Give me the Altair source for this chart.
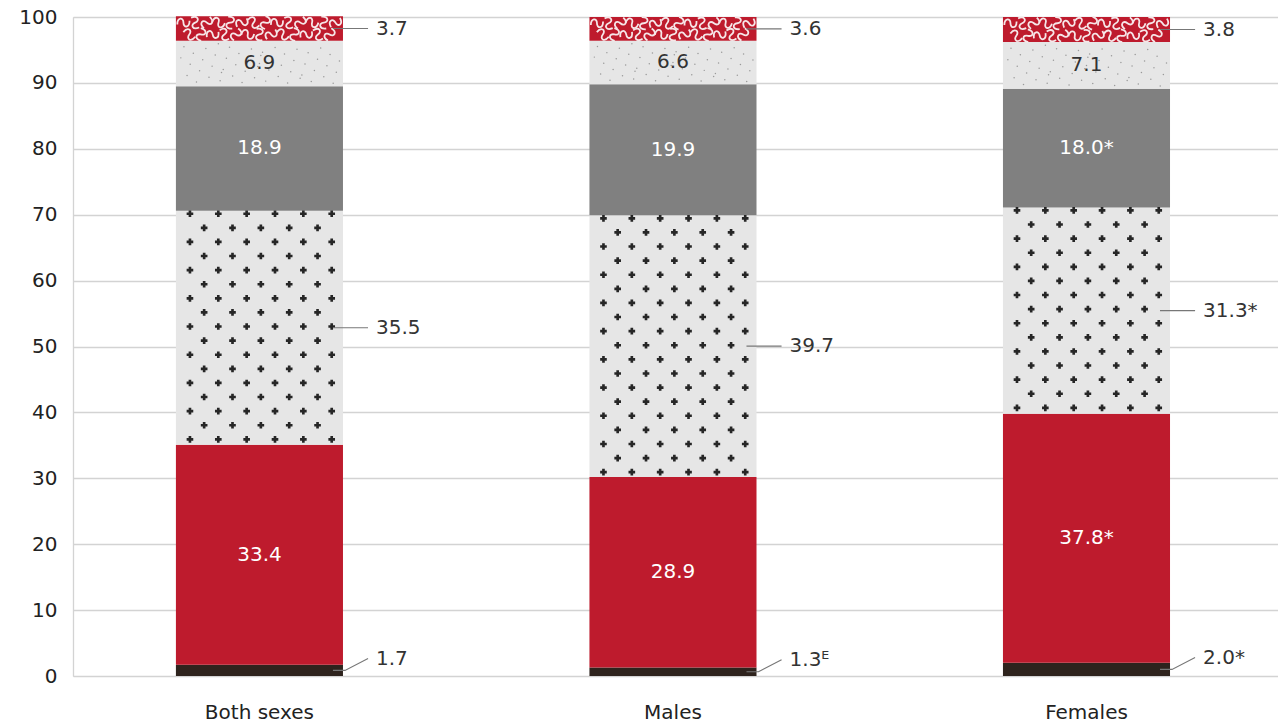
import altair as alt
import pandas as pd
import numpy as np

FONT = "DejaVu Sans"

categories = ["Both sexes", "Males", "Females"]

# segment values, bottom to top
seg_base = [1.7, 1.3, 2.0]
seg_red = [33.4, 28.9, 37.8]
seg_plus = [35.5, 39.7, 31.3]
seg_gray = [18.9, 19.9, 18.0]
seg_speck = [6.9, 6.6, 7.1]
seg_squig = [3.7, 3.6, 3.8]

lab_base = ["1.7", "1.3ᴱ", "2.0*"]
lab_red = ["33.4", "28.9", "37.8*"]
lab_plus = ["35.5", "39.7", "31.3*"]
lab_gray = ["18.9", "19.9", "18.0*"]
lab_speck = ["6.9", "6.6", "7.1"]
lab_squig = ["3.7", "3.6", "3.8"]

seg_names = ["base", "red", "plus", "gray", "speck", "squig"]
seg_colors = ["#2e231d", "#be1b2d", "#e6e6e6", "#808080", "#e6e6e6", "#be1b2d"]
values = [seg_base, seg_red, seg_plus, seg_gray, seg_speck, seg_squig]
labels = [lab_base, lab_red, lab_plus, lab_gray, lab_speck, lab_squig]

rows = []
for i, c in enumerate(categories):
    y = 0.0
    for s, v, l in zip(seg_names, values, labels):
        rows.append(dict(grp=c, seg=s, y0=y, y1=y + v[i], mid=y + v[i] / 2, label=l[i]))
        y += v[i]
df = pd.DataFrame(rows)

# ---- texture points (decoration only) ----
plus_pts, squig_pts, speck_pts = [], [], []
for c in categories:
    r = df[(df["grp"] == c) & (df["seg"] == "plus")].iloc[0]
    yy = r["y1"] - 0.45
    k = 0
    while yy > r["y0"] + 0.3:
        start = 0.084 if k % 2 == 0 else 0.169
        fx = start
        while fx < 0.97:
            plus_pts.append(dict(grp=c, fx=fx, y=yy))
            fx += 0.1697
        yy -= 2.14
        k += 1
    r = df[(df["grp"] == c) & (df["seg"] == "squig")].iloc[0]
    n = 0
    for ry, yy in enumerate([r["y1"] - 0.95, r["y0"] + 0.95]):
        fx = 0.045 + 0.035 * ry
        while fx < 0.97:
            squig_pts.append(dict(grp=c, fx=fx, y=yy, ang=(n * 67) % 360))
            fx += 0.07
            n += 1
    r = df[(df["grp"] == c) & (df["seg"] == "speck")].iloc[0]
    for j in range(55):
        fx = 0.02 + 0.96 * ((0.5 + j * 0.7548776662) % 1)
        fy = 0.06 + 0.88 * ((0.5 + j * 0.5698402910) % 1)
        speck_pts.append(dict(grp=c, fx=fx, y=r["y0"] + fy * (r["y1"] - r["y0"])))
plus_df = pd.DataFrame(plus_pts)
squig_df = pd.DataFrame(squig_pts)
speck_df = pd.DataFrame(speck_pts)

# ---- leader lines and outside labels ----
lead, outl = [], []
for _, r in df.iterrows():
    g, s, m = r["grp"], r["seg"], r["mid"]
    key = f"{g}-{s}"
    if s in ("plus", "squig"):
        lead += [dict(key=key, grp=g, fx=0.94, y=m, o=0),
                 dict(key=key, grp=g, fx=1.15, y=m, o=1)]
        outl.append(dict(grp=g, fx=1.15, y=m, label=r["label"]))
    elif s == "base":
        lead += [dict(key=key, grp=g, fx=0.94, y=m, o=0),
                 dict(key=key, grp=g, fx=1.012, y=m, o=1),
                 dict(key=key, grp=g, fx=1.15, y=m + 1.8, o=2)]
        outl.append(dict(grp=g, fx=1.15, y=m + 1.8, label=r["label"]))
lead_df = pd.DataFrame(lead)
out_df = pd.DataFrame(outl)
in_df = df[df["seg"].isin(["red", "gray", "speck"])].copy()
in_df["tc"] = in_df["seg"].map({"red": "white", "gray": "white", "speck": "#333333"})

xscale = alt.Scale(paddingInner=0.596, paddingOuter=0.255, align=0.488)
x_enc = alt.X("grp:N", sort=categories, scale=xscale,
              axis=alt.Axis(title=None, labelAngle=0, ticks=False, domain=False,
                            labelPadding=26, labelFontSize=20, labelColor="#222222",
                            labelFont=FONT, labelFontWeight="normal"))
yscale = alt.Scale(domain=[0, 100], nice=False)
xoff = alt.XOffset("fx:Q", scale=alt.Scale(domain=[0, 1], nice=False, zero=False))

bars = alt.Chart(df).mark_bar(stroke=None).encode(
    x=x_enc,
    y=alt.Y("y0:Q", scale=yscale,
            axis=alt.Axis(title=None, values=list(range(0, 101, 10)), ticks=False,
                          grid=True, gridColor="#d3d3d3", gridWidth=1.3,
                          domain=True, domainColor="#d3d3d3", domainWidth=1.3,
                          labelPadding=16, labelFontSize=20, labelColor="#222222",
                          labelFont=FONT)),
    y2="y1:Q",
    color=alt.Color("seg:N", scale=alt.Scale(domain=seg_names, range=seg_colors), legend=None),
)

plus = alt.Chart(plus_df).mark_point(shape="cross", filled=True, size=44, color="#262626", opacity=1).encode(
    x=x_enc, xOffset=xoff, y=alt.Y("y:Q", scale=yscale))

squig_shape = "M-1,0.3 C-1,-0.9 0,-0.9 0,0 C0,0.9 1,0.9 1,-0.3"
squig = alt.Chart(squig_df).mark_point(shape=squig_shape, filled=False, size=150, color="#f6e6e8",
                                       strokeWidth=1.8, opacity=1).encode(
    x=x_enc, xOffset=xoff, y=alt.Y("y:Q", scale=yscale), angle=alt.Angle("ang:Q", scale=None))

speck = alt.Chart(speck_df).mark_circle(size=2.2, color="#9a9a9a", opacity=1).encode(
    x=x_enc, xOffset=xoff, y=alt.Y("y:Q", scale=yscale))

leaders = alt.Chart(lead_df).mark_line(color="#777777", strokeWidth=1.1).encode(
    x=x_enc, xOffset=xoff, y=alt.Y("y:Q", scale=yscale), detail="key:N", order="o:Q")

out_text = alt.Chart(out_df).mark_text(align="left", baseline="middle", dx=8, fontSize=20,
                                       font=FONT, color="#333333").encode(
    x=x_enc, xOffset=xoff, y=alt.Y("y:Q", scale=yscale), text="label:N")

in_text = alt.Chart(in_df).mark_text(align="center", baseline="middle", fontSize=20,
                                     font=FONT).encode(
    x=x_enc, y=alt.Y("mid:Q", scale=yscale), text="label:N",
    color=alt.Color("tc:N", scale=None))

chart = alt.layer(bars, plus, squig, speck, leaders, out_text, in_text).resolve_scale(
    xOffset="independent"
).properties(
    width=1205, height=659,
    padding={"left": 73, "top": 17, "right": 0, "bottom": 48},
    autosize=alt.AutoSizeParams(type="none"),
).configure_view(stroke=None).configure(background="white")

chart.save("out.html", embed_options={"renderer": "svg", "actions": False})
